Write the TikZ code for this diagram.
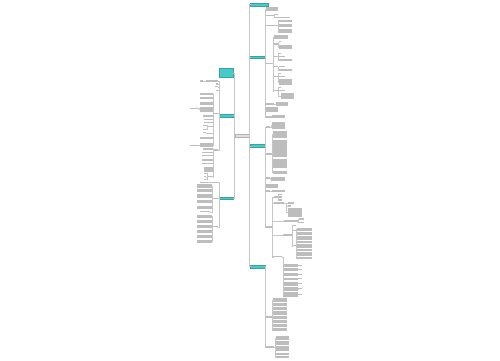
\documentclass[tikz,border=0pt]{standalone}
\usepackage{tikz}
\definecolor{topicteal}{RGB}{70,204,200}

\begin{document}
\begin{tikzpicture}[x=0.02cm,y=-0.02cm]
	\tikzset{blk/.style={fill=gray!52,inner sep=0pt,outer sep=0pt}}
	\tikzset{topic/.style={fill=topicteal,draw=topicteal!80!black,line width=0.1pt,inner sep=0pt,outer sep=0pt}}
	\tikzset{root/.style={fill=gray!25,draw=gray!60,line width=0.2pt,inner sep=0pt,outer sep=0pt}}
	\tikzset{link/.style={draw=gray!45,line width=0.22pt}}
	\useasboundingbox (0,0) rectangle (500,360);
	\node[root,minimum width=0.28cm,minimum height=0.066cm] (C) at (242,135.6) {};
	\foreach \n/\xa/\ya/\xb/\yb in {R1/250/3.3/268.5/5.7, R2/250/55.7/265/58.3, R3/250/144.5/265/147, R4/250/265/265/267.7,
		L1/219.3/68.3/233.3/77.3, L2/219.3/114.3/233.3/116.7, L3/219.3/196.7/233.3/199.2}
		\node[topic,minimum width={(\xb-\xa)*0.02cm},minimum height={(\yb-\ya)*0.02cm}] (\n) at ({(\xa+\xb)/2},{(\ya+\yb)/2}) {};
	% left
	\foreach \n/\xa/\ya/\xb/\yb in {c1/206/80/218.3/82, c2/216/83.4/218.3/84.5, c3/215.3/86.2/218.3/87.3, c4/216/89.5/218.3/90.6,
		c5/214/112.6/218.3/114, c6/214/149.3/218.3/150.7, c1a/200/80.4/203/81.7,
		d1/200/92.7/213.3/95, d2/200/97.3/213.3/99.3, d3/200/101.7/213.3/105, d4/200/106.7/213.3/111.7,
		d5/203.3/115/213.3/117.3, d6/204/118.8/212.7/120, d7/204/122.2/213.3/123.4, d8/207.3/126.1/213.3/127.3,
		d9/207.3/132.7/213.3/133.9, d10/200/137.3/213.3/139.3, d11/200/143.3/213.3/147.3,
		d4a/190/107.8/198.3/109.2, d8a/203.3/124.7/206/125.9, d8b/203.3/128.7/206/129.9, d9a/203.3/132.2/206/133.4,
		d11a/190/144.6/198.3/146,
		f1/203.3/148.3/213.3/150, f2/201.7/151.7/213.3/153, f3/201.7/154.5/213.3/155.8, f4/201.7/159.4/213.3/160.7,
		f5/201.7/162.7/213.3/164, f6/204/166.7/213.3/171.7, f8/207.3/176.1/213.3/177.3,
		f7/204/172.9/206/174, f8a/204/176.1/206/177.3, f9/204/178.5/206/179.6,
		g1/211.7/181.5/216.7/183, g1a/200/181.5/208.3/183, g2/212.7/197.6/218.3/199,
		g21/196.7/184.3/211.7/187.7, g22/196.7/189/211.7/192.3, g23/196.7/194.3/211.7/197.7,
		g24/196.7/200/211.7/203.3, g25/196.7/205.7/211.7/209, g26/200/211.2/210/212.4,
		g3/212.3/226/218.3/227.4, g31/196.7/215/211.7/218.3, g32/196.7/220/211.7/223.3, g33/196.7/225/211.7/228.3,
		g34/196.7/230/211.7/233.3, g35/196.7/235/211.7/238.3, g36/196.7/240/211.7/243.3}
		\node[blk,minimum width={(\xb-\xa)*0.02cm},minimum height={(\yb-\ya)*0.02cm}] (\n) at ({(\xa+\xb)/2},{(\ya+\yb)/2}) {};
	% right
	\foreach \n/\xa/\ya/\xb/\yb in {a1/265.7/7.3/278.3/11, a2/265.7/14.7/273.7/16, a21/275/13.6/277.7/14.7, a22/275/16.6/290/17.7,
		a3/265.7/24.8/277.7/26, a31/278.3/20/291.7/22, a32/278.3/24/291.7/26.7, a33/278.3/29/291.7/33.3,
		a4/265.7/62.8/272/64.2, b1/274.3/35/287.7/39.3,
		b2/274.3/43.4/277.7/44.6, b21/278.7/41.2/281.3/42.3, b22/278.7/45/291.7/49.3,
		b3/274.3/56/277.7/57.2, b31/278.7/52.8/281.3/53.9, b32/278.7/56/285/57.2, b33/278.7/59.3/291.7/60.8,
		b4/274.3/66.1/277.7/67.3, b41/278.7/66.1/285/67.3, b42/278.7/69.3/291.7/70.8,
		b5/274.3/76.1/277.7/77.3, b51/278.7/72.7/281.3/73.9, b52/278.7/76.1/285/77.3, b53/278.7/79.3/291.7/85,
		b6/274.3/90.1/277.7/91.3, b61/278.7/86.9/281.3/88, b62/278.7/89.7/285/90.9, b63/281/93.3/294.3/99.3,
		a5/265.7/103.3/273.7/104.7, a51/275.7/101.7/288.3/106, a6/265.7/107.3/278.3/111.7,
		a7/265.7/116.3/271/117.7, a71/272/115/285/118.3,
		a8/265.7/126.3/270/127.5, a81/271.7/122.3/285/129,
		h1/265.7/153.3/272/154.7, h11/273.3/131/286.7/138.3, h12/273.3/140/286.7/147.7, h13/273.3/148.3/286.7/157,
		h14/273.3/159.3/286.7/168, h15/273.3/171/286.7/174,
		h2/265.7/177.3/270/178.7, h21/271/176.7/285/181, h3/265.7/184/278.3/188.3,
		h4/265.7/190.3/270/191.5, h41/271.7/190/285/192, h5/265.7/226.3/272/227.7,
		i1/274.3/196.3/277.7/197.5, i11/279/193.9/281.7/195, i12/279/196.3/281.7/197.5, i13/279/199.4/281.7/200.5,
		i2/274.3/202.3/284.3/203.7, i21/288.3/202.3/294.3/203.5, i22/288.3/205.4/291/206.5, i23/288.3/208.3/302.3/216.7,
		i3/284.3/219.7/298/222.3, i31/299/218.4/304.3/219.5, i32/299/221.5/304.3/222.6,
		i4/283.3/233.8/291.7/236.2, i41/292.8/224.5/296.3/225.6, i42/292.8/229.5/296.3/230.6, i43/293.3/245.2/296/246.3,
		q1/296.7/228.3/311.7/231, q2/296.7/232/311.7/235, q3/296.7/236/311.7/239.5, q4/296.7/240.5/311.7/243,
		q5/296.7/244/311.7/247.5, q6/296.7/248.5/311.7/251, q7/296.7/252/311.7/255.5, q8/296.7/256.5/311.7/259.3,
		j/273.3/256/282.3/257.4,
		j1/283.3/264/297.7/266.8, j2/283.3/268.3/297.7/271, j3/283.3/272.5/297.7/276, j4/283.3/277.5/297.7/280.3,
		j5/283.3/281.8/297.7/285.5, j6/283.3/287/297.7/290.5, j7/283.3/292/297.7/296.7,
		jt1/298.3/264.8/302.3/265.9, jt2/298.3/269.1/302.3/270.2, jt3/298.3/273.7/302.3/274.8, jt4/298.3/278.3/302.3/279.4,
		jt5/298.3/283.1/302.3/284.2, jt6/298.3/288.2/302.3/289.3, jt7/298.3/293.8/302.3/294.9,
		k1/265.7/316.3/272/317.7, k11/273.3/298.3/286.7/301.6, k12/273.3/302.6/286.7/305.9, k13/273.3/306.9/286.7/310.2,
		k14/273.3/311.2/286.7/314.5, k15/273.3/315.5/286.7/318.8, k16/273.3/319.8/286.7/323.1,
		k17/273.3/324.1/286.7/327.4, k18/273.3/328.4/286.7/331.2,
		k2/265.7/346.3/274.3/347.7, k21/275.7/336/289.3/340, k22/275.7/341.2/289.3/345, k23/275.7/346.2/289.3/350.5,
		k24/275.7/352.5/289.3/354.5, k25/275.7/356/289.3/357.8}
		\node[blk,minimum width={(\xb-\xa)*0.02cm},minimum height={(\yb-\ya)*0.02cm}] (\n) at ({(\xa+\xb)/2},{(\ya+\yb)/2}) {};
	% connectors
	\foreach \p/\o/\cs in {C/0.5/{R1,R2,R3,R4}, R2/0.35/{a1,a2,a3,a4,a5,a6,a7}, a2/0.6/{a21,a22}, a3/0.3/{a31,a32,a33},
		a4/1/{b1,b2,b3,b4,b5,b6}, b2/0.5/{b21,b22}, b3/0.5/{b31,b32,b33}, b4/0.5/{b41,b42}, b5/0.5/{b51,b52,b53},
		b6/0.5/{b61,b62,b63}, a5/1/{a51}, a7/0.5/{a71}, R3/0.35/{a8,h1,h2,h3,h4,h5}, a8/0.8/{a81},
		h1/0.6/{h11,h12,h13,h14,h15}, h2/0.5/{h21}, h4/0.8/{h41}, h5/0.6/{i1,i2,i3,i4,j}, i1/0.6/{i11,i12,i13},
		i2/2/{i21,i22,i23}, i3/0.5/{i31,i32}, i4/0.5/{i41,i42,i43}, i43/0.3/{q1,q2,q3,q4,q5,q6,q7,q8},
		j/0.5/{j1,j2,j3,j4,j5,j6,j7}, R4/0.35/{k1,k2}, k1/0.6/{k11,k12,k13,k14,k15,k16,k17,k18}, k2/0.7/{k21,k22,k23,k24,k25}}
		\foreach \k in \cs
			\draw[link] (\p.east) -- ++(\o,0) |- (\k.west);
	\foreach \p/\o/\cs in {C/0.8/{L1,L2,L3}, L2/0.5/{c1,c2,c3,c4,c5,c6}, c1/1.5/{c1a}, c5/0.35/{d1,d2,d3,d4,d5,d6,d7,d8,d9,d10,d11},
		d4/0.8/{d4a}, d8/0.6/{d8a,d8b}, d9/0.6/{d9a}, d11/0.8/{d11a}, c6/0.35/{f1,f2,f3,f4,f5,f6,f8}, f8/0.6/{f7,f8a,f9},
		L3/0.5/{g1,g2,g3}, g1/1.5/{g1a}, g2/0.5/{g21,g22,g23,g24,g25,g26}, g3/0.3/{g31,g32,g33,g34,g35,g36}}
		\foreach \k in \cs
			\draw[link] (\p.west) -- ++(-\o,0) |- (\k.east);
	\foreach \k in {1,...,7}
		\draw[link] (j\k.east) -- (jt\k.west);
\end{tikzpicture}
\end{document}
